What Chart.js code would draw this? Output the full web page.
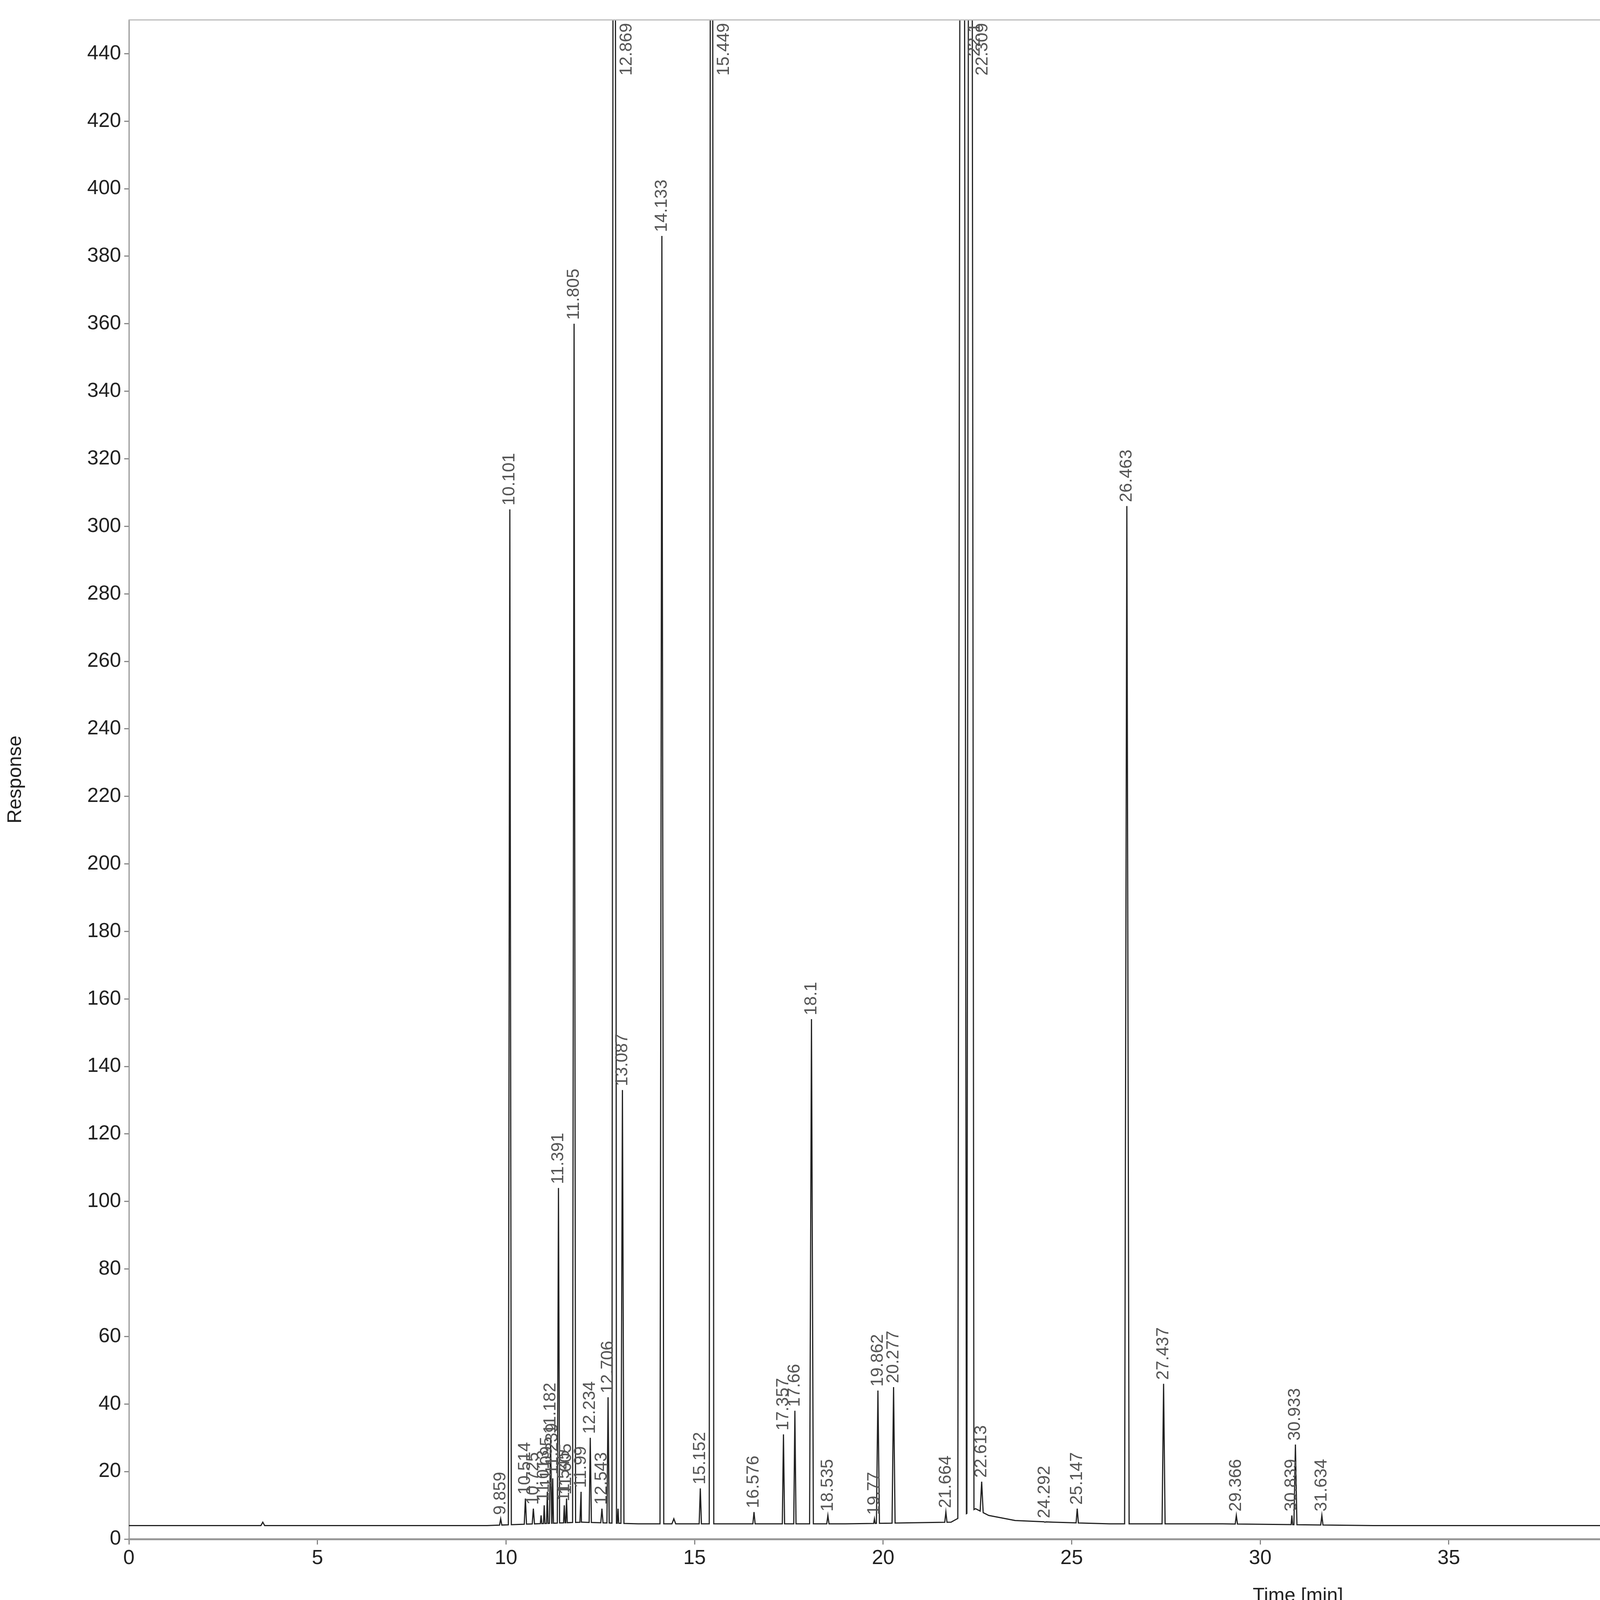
<!DOCTYPE html>
<html><head><meta charset="utf-8">
<script src="https://cdn.jsdelivr.net/npm/chart.js@4"></script>
<style>html,body{margin:0;padding:0;background:#fff}</style>
</head><body>
<canvas id="c" width="4437" height="4121"></canvas>
<script>
const peakTimes  = [9.859,10.101,10.514,10.725,10.93,11.013,11.095,11.182,11.239,11.391,11.545,11.605,11.805,11.99,12.234,12.543,12.706,12.869,12.97,13.087,14.133,15.152,15.449,16.576,17.357,17.66,18.1,18.535,19.77,19.862,20.277,21.664,22.1,22.309,22.613,24.292,25.147,26.463,27.437,29.366,30.839,30.933,31.634,40.622];
const peakHeights= [6,305,12,9,7,10,14,30,18,104,10,12,360,14,30,9,42,1000,9,133,386,15,1000,8,31,38,154,7,6,44,45,8,1000,1000,17,5,9,306,46,7,7,28,7,9];
const peakLabels = ["9.859","10.101","10.514","10.725","10.93","11.013","11.095","11.182","11.239","11.391","11.545","11.605","11.805","11.99","12.234","12.543","12.706","12.869","12.97","13.087","14.133","15.152","15.449","16.576","17.357","17.66","18.1","18.535","19.77","19.862","20.277","21.664","22.1","22.309","22.613","24.292","25.147","26.463","27.437","29.366","30.839","30.933","31.634","40.622"];
const showLabel  = [1,1,1,1,0,1,1,1,1,1,1,1,1,1,1,1,1,1,0,1,1,1,1,1,1,1,1,1,1,1,1,1,1,1,1,1,1,1,1,1,1,1,1,1];
const peakWidths = [0.03,0.04,0.03,0.03,0.02,0.02,0.02,0.03,0.02,0.03,0.02,0.02,0.04,0.03,0.03,0.03,0.03,0.06,0.02,0.04,0.05,0.03,0.06,0.03,0.03,0.03,0.05,0.03,0.02,0.04,0.04,0.03,0.12,0.1,0.04,0.03,0.03,0.06,0.04,0.03,0.02,0.04,0.03,0.03];
const baseTimes  = [0,3.5,3.55,3.6,9.5,12.0,13.5,14.4,14.45,14.5,16.0,19.0,21.8,22.45,22.8,23.5,24.5,26.0,29.0,33.0,37.0,39.6,39.65,39.7,41.5,41.55,41.6,42.3];
const baseValues = [4,4,5,4,4,5,4.5,4.5,6,4.5,4.5,4.5,5,9,7,5.5,5,4.5,4.5,4,4,4,5,4,4,5,4,4];
const xTicks = [0,5,10,15,20,25,30,35,40];

const pts = [];
baseTimes.forEach((t,i)=>pts.push({x:t,y:baseValues[i]}));
function baseAt(t){for(let i=1;i<baseTimes.length;i++){if(t<=baseTimes[i]){const a=baseTimes[i-1],b=baseTimes[i];return baseValues[i-1]+(baseValues[i]-baseValues[i-1])*(t-a)/(b-a);}}return 4;}
peakTimes.forEach((t,i)=>{const w=peakWidths[i];pts.push({x:t-w,y:baseAt(t-w)});pts.push({x:t,y:peakHeights[i]});pts.push({x:t+w,y:baseAt(t+w)});});
pts.sort((a,b)=>a.x-b.x);

const labelPlugin={id:'pl',afterDatasetsDraw(ch){
  const ctx=ch.ctx,xs=ch.scales.x,ys=ch.scales.y,a=ch.chartArea;
  ctx.save();ctx.font='44px "Liberation Sans", Arial';ctx.fillStyle='#555';ctx.textBaseline='middle';
  peakTimes.forEach((t,i)=>{ if(!showLabel[i])return;
    const x=xs.getPixelForValue(t);
    ctx.save();
    if(peakHeights[i]>450){ctx.translate(x+32,a.top+8);ctx.rotate(-Math.PI/2);ctx.textAlign='right';}
    else{ctx.translate(x,ys.getPixelForValue(peakHeights[i])-10);ctx.rotate(-Math.PI/2);ctx.textAlign='left';}
    ctx.fillText(peakLabels[i],0,0);ctx.restore();});
  // frame
  ctx.strokeStyle='#bbb';ctx.lineWidth=3;ctx.beginPath();ctx.moveTo(a.left,a.top);ctx.lineTo(a.right,a.top);ctx.lineTo(a.right,a.bottom);ctx.stroke();
  // x title
  ctx.font='50px "Liberation Sans", Arial';ctx.fillStyle='#222';ctx.textAlign='center';ctx.textBaseline='alphabetic';
  ctx.fillText('Time [min]',xs.getPixelForValue(31),4100);
  ctx.restore();}};

new Chart(document.getElementById('c'),{type:'line',
 data:{datasets:[{data:pts,borderColor:'#222',borderWidth:3,pointRadius:0,tension:0}]},
 options:{responsive:false,animation:false,devicePixelRatio:1,
  layout:{padding:{top:51,right:33,left:0,bottom:0}},
  plugins:{legend:{display:false},tooltip:{enabled:false}},
  scales:{
   x:{type:'linear',min:0,max:42.2,afterFit(s){s.height=181;},
      afterBuildTicks(s){s.ticks=xTicks.map(v=>({value:v}));},
      grid:{drawOnChartArea:false,tickLength:14,color:'#888',lineWidth:3},border:{color:'#999',width:5},
      ticks:{font:{size:52,family:'"Liberation Sans", Arial'},color:'#222',padding:4,maxRotation:0}},
   y:{min:0,max:450,afterFit(s){s.width=330;},
      afterBuildTicks(s){const t=[];for(let v=0;v<=440;v+=20)t.push({value:v});s.ticks=t;},
      grid:{drawOnChartArea:false,tickLength:12,color:'#888',lineWidth:3},border:{color:'#999',width:3},
      title:{display:true,text:'Response',font:{size:50,family:'"Liberation Sans", Arial'},color:'#222',padding:10},
      ticks:{font:{size:52,family:'"Liberation Sans", Arial'},color:'#222',padding:8}}
  }},
 plugins:[labelPlugin]});
</script></body></html>
